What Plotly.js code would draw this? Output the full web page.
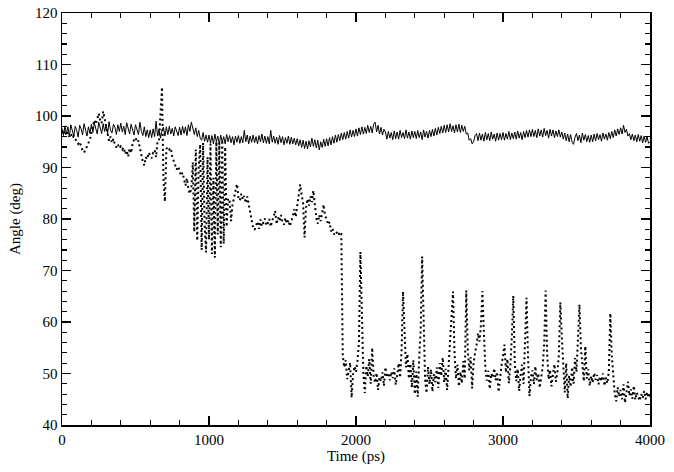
<!DOCTYPE html>
<html>
<head>
<meta charset="utf-8">
<script src="https://cdn.plot.ly/plotly-3.0.1.min.js"></script>
<style>html,body{margin:0;padding:0;background:#fff;}#chart{width:674px;height:472px;}</style>
</head>
<body>
<div id="chart"></div>
<script>
// Time axis: one sample every 10 ps from 0 to 4000 ps
const timeStart = 0;
const timeStep = 10;

// Solid series (angle, deg)
const solidAngle = [
97.6,96.2,98.1,96.5,97.9,96.0,98.3,97.4,96.1,98.0,97.2,95.9,98.2,97.5,96.3,98.5,97.0,96.1,97.9,96.6,
98.4,96.8,98.6,97.2,96.5,98.8,97.9,96.6,98.5,97.0,98.3,96.5,98.9,97.3,96.7,98.4,97.8,96.4,98.3,97.0,
98.6,96.9,98.0,96.4,98.7,97.6,96.5,98.4,97.0,96.3,98.3,97.5,96.4,98.8,97.0,96.2,97.9,96.0,97.3,95.8,
97.3,95.8,97.5,96.0,99.0,96.1,97.4,95.7,97.2,97.8,96.1,97.9,96.4,98.0,96.5,97.6,96.1,97.9,96.8,96.2,
97.8,96.3,98.0,96.6,97.9,96.2,98.3,97.0,98.8,97.4,96.4,97.7,96.0,97.2,95.7,95.3,96.8,95.1,96.3,94.9,
96.3,94.7,96.2,94.6,96.5,95.0,96.1,94.5,96.3,94.9,96.0,94.6,96.4,95.0,96.2,94.8,96.0,94.4,96.1,94.9,
96.2,94.7,96.0,94.8,97.2,95.0,96.3,94.6,96.1,94.9,96.3,94.8,96.0,94.6,96.2,95.0,96.5,94.8,96.1,94.7,
96.0,94.6,97.2,94.9,96.1,94.7,95.9,94.5,96.2,94.8,96.0,94.4,95.8,94.7,96.1,94.5,95.9,94.6,95.7,94.4,
95.6,94.2,95.4,93.9,95.3,93.7,95.1,93.6,95.2,94.0,95.7,94.1,95.4,93.8,95.3,93.4,95.0,93.9,95.5,94.1,
95.6,94.2,95.8,94.4,96.0,94.7,96.3,94.9,96.4,95.2,96.7,95.4,96.8,95.5,97.0,95.7,97.3,95.9,97.2,96.0,
97.5,96.1,97.7,96.4,97.9,96.5,97.8,96.6,98.2,96.8,98.0,96.7,98.4,98.8,96.9,98.2,96.5,97.8,96.3,97.4,
96.9,95.5,97.0,95.7,96.8,95.4,97.1,95.6,96.9,95.5,97.2,95.8,96.8,95.6,97.3,95.7,96.9,95.5,97.1,95.8,
97.0,95.6,97.2,95.8,96.9,95.4,97.3,95.9,97.0,95.7,97.2,96.0,97.4,96.1,97.6,96.3,97.8,96.6,98.0,96.7,
98.2,96.8,98.3,96.9,98.5,97.0,98.1,96.7,98.3,96.9,98.4,96.8,98.2,97.0,98.0,96.5,96.7,95.3,95.6,94.6,
95.0,96.2,96.6,95.2,96.7,95.3,96.5,95.1,96.8,95.4,96.6,95.2,96.9,95.5,96.5,95.1,96.7,95.3,96.6,95.4,
96.8,95.3,96.6,95.5,97.0,95.4,96.7,95.6,96.9,95.5,97.1,95.7,96.8,95.4,97.0,95.8,97.2,95.9,97.3,96.0,
97.4,96.0,97.2,95.8,97.5,96.1,97.3,95.9,97.6,96.2,97.2,95.7,97.4,96.1,97.3,95.8,97.1,96.0,97.3,95.9,
96.9,95.5,96.7,95.2,96.5,95.0,96.4,94.9,94.5,95.9,96.6,95.2,96.3,94.8,96.7,95.3,96.4,95.0,96.2,94.9,
96.3,95.0,96.5,95.2,96.6,95.4,96.4,95.1,96.7,95.5,96.5,95.3,96.8,95.6,97.0,95.8,97.3,96.1,97.5,96.4,
97.7,96.5,98.2,96.8,97.4,96.1,96.6,95.4,96.5,95.2,96.3,95.0,96.4,95.1,96.2,94.8,96.1,94.9,96.0,94.7,
95.0
];

// Dotted series (angle, deg)
const dottedAngle = [
97.0,96.4,97.2,96.2,96.8,96.0,96.6,95.7,96.1,95.5,95.2,94.6,95.0,94.0,93.3,92.9,93.4,94.1,94.8,95.4,
96.8,97.9,99.2,98.4,99.8,100.5,99.1,98.6,100.9,99.5,97.8,96.3,95.2,96.0,94.8,95.6,94.4,93.9,94.5,93.7,
94.1,93.5,93.9,92.6,93.3,92.1,93.7,92.8,94.6,95.4,95.8,94.9,95.2,93.8,92.4,91.1,90.4,92.0,91.6,92.9,
92.3,91.8,92.9,93.4,92.0,95.1,95.2,101.0,105.6,88.0,83.4,93.6,94.0,93.5,93.8,92.1,91.2,90.4,89.6,90.2,
89.1,88.4,89.0,87.6,86.5,87.9,85.8,84.9,86.0,91.0,77.5,93.5,75.8,90.0,94.5,74.0,94.8,79.0,73.5,92.0,
76.0,94.6,73.2,88.0,72.5,95.0,77.0,94.8,74.5,95.3,75.2,94.0,78.5,84.0,83.5,79.6,82.8,84.1,85.9,86.8,
84.2,83.6,84.9,83.8,84.5,83.1,84.4,82.9,81.4,79.6,78.3,77.9,78.8,79.5,78.1,79.9,78.6,79.3,80.1,78.7,
79.2,80.0,78.5,79.7,80.4,81.6,79.0,80.3,79.6,80.8,79.4,78.9,80.2,79.1,79.8,78.6,79.5,80.6,81.9,80.4,
82.5,85.2,86.7,84.8,83.1,76.4,82.2,83.9,82.6,84.4,83.3,85.5,83.0,80.2,79.1,80.8,79.6,81.2,82.8,80.5,
80.1,78.9,79.4,77.6,78.2,77.0,77.6,77.3,76.8,77.5,77.1,53.5,51.2,52.6,48.9,50.5,52.1,45.3,49.8,51.4,
50.3,52.4,56.0,73.6,60.5,50.1,46.2,51.5,49.4,52.8,48.0,55.0,49.6,48.2,50.1,46.8,49.3,48.5,50.2,47.6,
51.2,49.5,49.9,48.7,50.3,49.1,51.0,47.8,49.6,52.0,49.2,54.5,65.9,56.3,51.2,53.8,49.0,51.9,47.3,52.6,
46.0,50.4,45.5,53.0,58.5,72.7,63.0,48.8,46.2,51.3,47.9,50.8,46.5,49.9,48.3,51.2,47.2,52.0,49.5,53.1,
48.3,50.9,46.8,51.6,55.4,59.8,65.9,54.0,49.0,51.7,47.5,50.3,48.1,52.4,49.0,66.1,55.0,50.6,53.2,47.1,
52.1,54.0,55.5,57.8,56.2,59.5,66.0,58.0,51.0,48.6,50.5,47.0,50.0,49.2,51.0,48.7,50.3,46.4,49.8,51.6,
53.4,55.6,50.2,52.8,48.1,51.5,57.0,65.1,52.0,48.5,50.9,46.6,49.8,51.7,48.0,56.5,64.7,53.5,45.6,49.3,
50.6,47.9,51.4,48.7,50.0,47.2,49.6,51.3,55.5,66.1,54.2,48.9,50.7,47.5,49.9,51.8,48.4,50.2,53.6,63.8,
57.2,50.1,46.3,52.0,45.2,49.6,47.4,51.2,48.0,53.0,50.3,56.8,63.4,55.0,51.4,48.5,55.3,49.0,50.8,47.6,
49.5,48.2,50.1,48.8,49.7,47.9,49.4,48.5,50.0,47.6,49.2,48.1,50.4,61.7,53.5,49.0,46.1,44.6,47.3,45.5,
46.8,45.0,47.9,44.3,46.2,48.4,45.7,46.9,45.1,47.6,44.9,46.3,45.4,44.7,46.0,45.2,46.6,45.0,46.4,45.3,
45.8
];

// Axis ticks / labels
const xTickVals = [0, 1000, 2000, 3000, 4000];
const yTickVals = [40, 50, 60, 70, 80, 90, 100, 110, 120];
const xTitle = 'Time (ps)';
const yTitle = 'Angle (deg)';

const timeSolid = solidAngle.map((_, i) => timeStart + i * timeStep);
const timeDotted = dottedAngle.map((_, i) => timeStart + i * timeStep);

const font = {family: '"Liberation Serif", "DejaVu Serif", serif', size: 15, color: '#000'};

const traces = [
  {x: timeDotted, y: dottedAngle, type: 'scatter', mode: 'lines',
   line: {color: '#000', width: 2, dash: '2px,3px'}, hoverinfo: 'skip'},
  {x: timeSolid, y: solidAngle, type: 'scatter', mode: 'lines',
   line: {color: '#000', width: 1}, hoverinfo: 'skip'}
];

const axisCommon = {
  showgrid: false, zeroline: false, showline: true, linecolor: '#000', linewidth: 1.5,
  mirror: 'ticks', ticks: 'inside', ticklen: 9, tickwidth: 1.3, tickcolor: '#000',
  tickfont: font
};

const layout = {
  width: 674, height: 472,
  margin: {l: 62, r: 24, t: 13, b: 47, pad: 0},
  paper_bgcolor: '#fff', plot_bgcolor: '#fff',
  showlegend: false,
  font: font,
  xaxis: Object.assign({}, axisCommon, {
    range: [0, 4000], tickvals: xTickVals, ticktext: xTickVals.map(String),
    minor: {dtick: 200, ticks: 'inside', ticklen: 5, tickwidth: 1.2, tickcolor: '#000', showgrid: false},
    title: {text: xTitle, font: font, standoff: 4}
  }),
  yaxis: Object.assign({}, axisCommon, {
    range: [40, 120], tickvals: yTickVals, ticktext: yTickVals.map(String),
    minor: {dtick: 2, ticks: 'inside', ticklen: 5, tickwidth: 1.2, tickcolor: '#000', showgrid: false},
    title: {text: yTitle, font: font, standoff: 11}
  })
};

Plotly.newPlot('chart', traces, layout, {staticPlot: true, displayModeBar: false});
</script>
</body>
</html>
